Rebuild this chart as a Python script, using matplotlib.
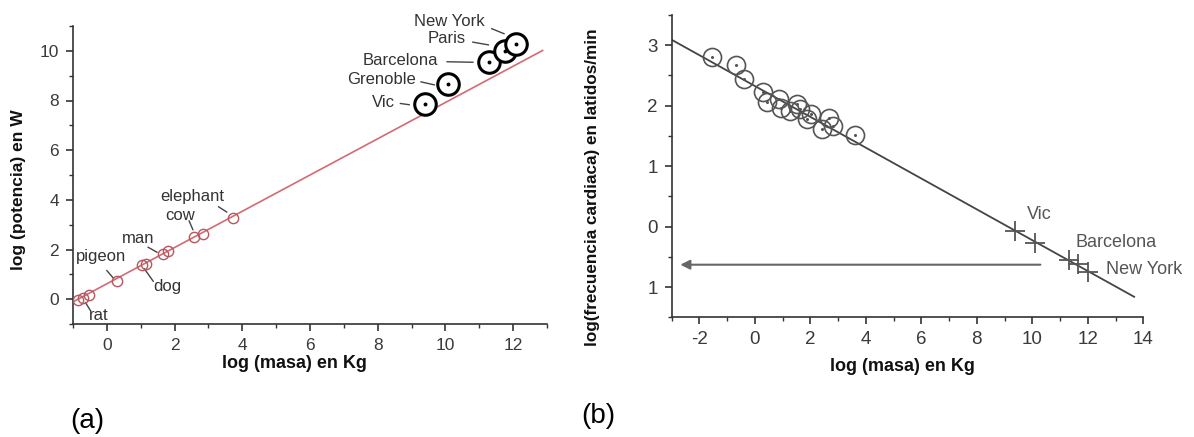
import matplotlib
matplotlib.use("Agg")
import matplotlib.pyplot as plt
import numpy as np

plt.rcParams["font.family"] = ["Liberation Sans", "DejaVu Sans"]
plt.rcParams["axes.unicode_minus"] = False

# ── (a) metabolic power vs mass ───────────────────────────────────────────────
animal_x = [-0.85, -0.70, -0.52, 0.29, 1.04, 1.16, 1.66, 1.82, 2.57, 2.85, 3.72]
animal_y = [-0.03, 0.06, 0.17, 0.72, 1.38, 1.42, 1.80, 1.93, 2.50, 2.64, 3.27]

city_names = ["Vic", "Grenoble", "Barcelona", "Paris", "New York"]
city_x_a = [9.39, 10.07, 11.29, 11.75, 12.08]
city_y_a = [7.85, 8.66, 9.54, 9.98, 10.27]

fit_a = (0.62, 0.73)        # intercept, slope
fit_a_range = (-0.95, 12.87)

# ── (b) heart rate vs mass ────────────────────────────────────────────────────
heart_x = [-1.55, -0.68, -0.40, 0.30, 0.44, 0.88, 0.94, 1.26, 1.50, 1.61,
           1.87, 2.01, 2.42, 2.67, 2.81, 3.59]
heart_y = [2.81, 2.67, 2.44, 2.22, 2.06, 2.11, 1.97, 1.92, 2.03, 1.94,
           1.78, 1.86, 1.62, 1.79, 1.67, 1.51]

city_x_b = [9.38, 10.09, 11.33, 11.65, 12.0]
city_y_b = [-0.07, -0.27, -0.56, -0.62, -0.75]

fit_b = (2.325, -0.255)
fit_b_range = (-3.0, 13.67)

arrow_b = (10.29, -2.69, -0.63)   # from x, to x, at y

yticks_b = [-1, 0, 1, 2, 3]
yticklabels_b = ["1", "0", "1", "2", "3"]

# annotation layout for (a): text, text x, text y, ha, leader x0, y0, x1, y1
labels_a = [
    ("New York", 11.15, 11.19, "right", 11.37, 10.89, 11.73, 10.69),
    ("Paris", 10.61, 10.49, "right", 10.81, 10.35, 11.27, 10.24),
    ("Barcelona", 9.79, 9.63, "right", 10.05, 9.56, 10.81, 9.54),
    ("Grenoble", 9.12, 8.85, "right", 9.28, 8.75, 9.67, 8.63),
    ("Vic", 8.51, 7.93, "right", 8.67, 7.88, 8.93, 7.83),
    ("elephant", 2.51, 4.12, "center", 3.30, 3.72, 3.54, 3.51),
    ("cow", 2.17, 3.38, "center", 2.43, 3.15, 2.54, 2.80),
    ("man", 0.93, 2.46, "center", 1.22, 2.09, 1.48, 1.89),
    ("pigeon", -0.16, 1.72, "center", 0.00, 1.15, 0.19, 0.85),
    ("dog", 1.80, 0.50, "center", 1.11, 1.22, 1.37, 0.72),
    ("rat", -0.23, -0.64, "center", -0.63, -0.14, -0.48, -0.47),
]

labels_b = [("Vic", 9.80, 0.20), ("Barcelona", 11.54, -0.26), ("New York", 12.65, -0.71)]

AXIS_C = "#333333"
TICK_C = "#3a3a3a"


def style_axes(ax, tick_size):
    for side in ("top", "right"):
        ax.spines[side].set_visible(False)
    for side in ("left", "bottom"):
        ax.spines[side].set_color(AXIS_C)
        ax.spines[side].set_linewidth(1.2)
    ax.tick_params(which="major", direction="out", length=5, width=1.2,
                   color=AXIS_C, labelcolor=TICK_C, labelsize=tick_size, pad=5)
    ax.tick_params(which="minor", direction="out", length=3, width=1.0, color=AXIS_C)


fig = plt.figure(figsize=(11.94, 4.37), dpi=100)

# ── panel (a) ─────────────────────────────────────────────────────────────────
ax1 = fig.add_axes([73 / 1194, 1 - 324 / 437, (547 - 73) / 1194, (324 - 26) / 437])
xs = np.array(fit_a_range)
ax1.plot(xs, fit_a[0] + fit_a[1] * xs, color="#d46a74", lw=1.2, zorder=2)
ax1.plot(animal_x, animal_y, "o", ms=7.4, mfc="none", mec="#b5575d", mew=1.0, zorder=3)
ax1.plot(city_x_a, city_y_a, "o", ms=15.5, mfc="white", mec="black", mew=2.2, zorder=4)
ax1.plot(city_x_a, city_y_a, "o", ms=1.8, color="black", zorder=5)

for txt, tx, ty, ha, x0, y0, x1, y1 in labels_a:
    ax1.text(tx, ty, txt, ha=ha, va="center", fontsize=12, color="#333333")
    ax1.plot([x0, x1], [y0, y1], color="#444444", lw=1.0, zorder=1)

ax1.set_xlim(-1, 13)
ax1.set_ylim(-1, 11)
ax1.set_xticks(range(0, 13, 2))
ax1.set_xticks(range(-1, 14), minor=True)
ax1.set_yticks(range(0, 11, 2))
ax1.set_yticks(range(-1, 12), minor=True)
style_axes(ax1, 12.5)
ax1.set_xlabel("log (masa) en Kg", fontsize=13, fontweight="bold", color="#111111")
ax1.set_ylabel("log (potencia) en W", fontsize=12.5, fontweight="bold", color="#111111")
ax1.xaxis.set_label_coords(0.467, -0.105)
ax1.yaxis.set_label_coords(-0.100, 0.45)

# ── panel (b) ─────────────────────────────────────────────────────────────────
ax2 = fig.add_axes([671.7 / 1194, 1 - 317.3 / 437, (1143.3 - 671.7) / 1194, (317.3 - 15) / 437])
xs = np.array(fit_b_range)
ax2.plot(xs, fit_b[0] + fit_b[1] * xs, color="#444444", lw=1.3, zorder=2)
ax2.plot(heart_x, heart_y, "o", ms=13, mfc="none", mec="#555555", mew=1.2, zorder=3)
ax2.plot(heart_x, heart_y, "o", ms=1.2, color="#555555", zorder=3)
ax2.plot(city_x_b, city_y_b, "+", ms=15, mec="#555555", mew=1.3, zorder=4)
ax2.annotate("", xy=(arrow_b[1], arrow_b[2]), xytext=(arrow_b[0], arrow_b[2]),
             arrowprops=dict(arrowstyle="-|>", color="#666666", lw=1.5,
                             mutation_scale=14, shrinkA=0, shrinkB=0))
for txt, tx, ty in labels_b:
    ax2.text(tx, ty, txt, ha="left", va="center", fontsize=13, color="#555555")

ax2.set_xlim(-3, 14)
ax2.set_ylim(-1.5, 3.5)
ax2.set_xticks(range(-2, 15, 2))
ax2.set_xticks(range(-3, 15), minor=True)
ax2.set_yticks(yticks_b)
ax2.set_yticklabels(yticklabels_b)
ax2.set_yticks(np.arange(-1.5, 3.6, 0.5), minor=True)
style_axes(ax2, 13.5)
ax2.set_xlabel("log (masa) en Kg", fontsize=13, fontweight="bold", color="#111111")
ax2.set_ylabel("log(frecuencia cardiaca) en latidos/min", fontsize=12.3,
               fontweight="bold", color="#111111")
ax2.xaxis.set_label_coords(0.49, -0.135)
ax2.yaxis.set_label_coords(-0.152, 0.43)

fig.text(70 / 1194, 1 - 421 / 437, "(a)", fontsize=20, ha="left", va="center")
fig.text(581 / 1194, 1 - 416 / 437, "(b)", fontsize=20, ha="left", va="center")

fig.savefig("out.png", dpi=100)
